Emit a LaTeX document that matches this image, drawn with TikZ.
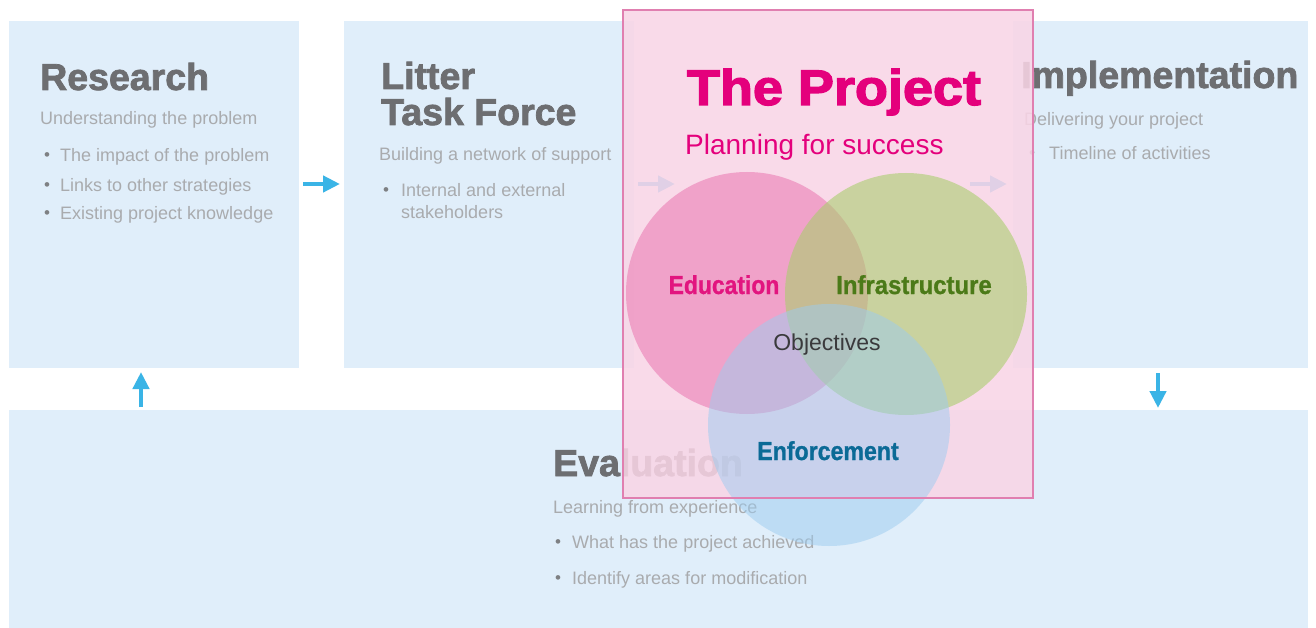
\documentclass[tikz,border=0pt]{standalone}
\usepackage{fontspec}
\setmainfont{Liberation Sans}
\newfontfamily\heavyfont[FakeBold=2]{Liberation Sans Bold}
\newfontfamily\blackfont[FakeBold=2.5]{Liberation Sans Bold}
\newfontfamily\labelfont[FakeBold=1]{Liberation Sans Bold}
\usetikzlibrary{arrows.meta}
\definecolor{boxblue}{HTML}{E0EEFA}
\definecolor{titlegray}{HTML}{6D6E71}
\definecolor{softgray}{HTML}{A9ABAE}
\definecolor{dotgray}{HTML}{7E8083}
\definecolor{arrowblue}{HTML}{3AB4E6}
\definecolor{panelpink}{HTML}{F9D5E6}
\definecolor{panelline}{HTML}{E07FB0}
\definecolor{projmagenta}{HTML}{E4007C}
\definecolor{edufill}{HTML}{EB7DB4}
\definecolor{infrafill}{HTML}{AACD6E}
\definecolor{enffill}{HTML}{9CCCF0}
\definecolor{edutext}{HTML}{E2157F}
\definecolor{infratext}{HTML}{4B7A18}
\definecolor{enftext}{HTML}{0B6A96}
\definecolor{objgray}{HTML}{3A3A3C}
\begin{document}
\begin{tikzpicture}[x=1pt,y=-1pt,
  bluebox/.style={fill=boxblue, draw=none, anchor=north west, inner sep=0pt, outer sep=0pt},
  ttl/.style={anchor=base west, inner sep=0pt, text=titlegray, font=\heavyfont\fontsize{37.5}{40}\selectfont},
  subtext/.style={anchor=base west, inner sep=0pt, text=softgray, font=\fontsize{18}{20}\selectfont},
  bulletmark/.style={anchor=base west, inner sep=0pt, text=dotgray, font=\fontsize{17}{19}\selectfont},
  flowarrow/.style={draw=arrowblue, line width=4.5pt, -{Triangle[length=17pt,width=16pt]}},
  venn/.style={circle, minimum size=242pt, inner sep=0pt, draw=none},
  vlabel/.style={anchor=base, inner sep=0pt, font=\labelfont\fontsize{26}{28}\selectfont}
]
\useasboundingbox (0,0) rectangle (1316,628);
\fill[white] (0,0) rectangle (1316,628);

% blue stage boxes
\node[bluebox, minimum width=290pt, minimum height=347pt] (research) at (9,21) {};
\node[bluebox, minimum width=290pt, minimum height=347pt] (litter) at (344,21) {};
\node[bluebox, minimum width=295pt, minimum height=347pt] (implement) at (1013,21) {};
\node[bluebox, minimum width=1299pt, minimum height=218pt] (evaluation) at (9,410) {};

% Research texts
\node[ttl] (rtitle) at (40,90) {Research};
\node[subtext] (rsub) at (40,125) {Understanding the problem};
\node[bulletmark] (rb1) at (44,161) {•};
\node[subtext] (rt1) at (60,162) {The impact of the problem};
\node[bulletmark] (rb2) at (44,191) {•};
\node[subtext] (rt2) at (60,192) {Links to other strategies};
\node[bulletmark] (rb3) at (44,219) {•};
\node[subtext] (rt3) at (60,220) {Existing project knowledge};

% Litter Task Force texts
\node[ttl] (ltitle1) at (381,89) {Litter};
\node[ttl] (ltitle2) at (381,125) {Task Force};
\node[subtext] (lsub) at (379,161) {Building a network of support};
\node[bulletmark] (lb1) at (383,196) {•};
\node[subtext] (lt1) at (401,197) {Internal and external};
\node[subtext] (lt2) at (401,219) {stakeholders};

% Implementation texts
\node[ttl] (ititle) at (1021,88) {Implementation};
\node[subtext] (isub) at (1024,126) {Delivering your project};
\node[bulletmark] (ib1) at (1029,159) {•};
\node[subtext] (it1) at (1049,160) {Timeline of activities};

% Evaluation texts
\node[ttl] (etitle) at (553,476) {Evaluation};
\node[subtext] (esub) at (553,513) {Learning from experience};
\node[bulletmark] (eb1) at (555,547) {•};
\node[subtext] (et1) at (572,548) {What has the project achieved};
\node[bulletmark] (eb2) at (555,583) {•};
\node[subtext] (et2) at (572,584) {Identify areas for modification};

% flow arrows
\coordinate (a1s) at (303,184); \coordinate (a1e) at (340,184);
\coordinate (a2s) at (638,184); \coordinate (a2e) at (675,184);
\coordinate (a3s) at (970,184); \coordinate (a3e) at (1007,184);
\coordinate (a4s) at (1158,373); \coordinate (a4e) at (1158,408);
\coordinate (a5s) at (141,407); \coordinate (a5e) at (141,372);
\draw[flowarrow] (a1s) -- (a1e);
\draw[flowarrow] (a2s) -- (a2e);
\draw[flowarrow] (a3s) -- (a3e);
\draw[flowarrow] (a4s) -- (a4e);
\draw[flowarrow] (a5s) -- (a5e);

% The Project panel
\node[anchor=north west, minimum width=410pt, minimum height=488pt, inner sep=0pt, outer sep=0pt,
      fill=panelpink, fill opacity=0.87, draw=none] (panel) at (623,10) {};

% Venn circles
\node[venn, fill=edufill, fill opacity=0.6] (edu) at (747,293) {};
\node[venn, fill=infrafill, fill opacity=0.6] (infra) at (906,294) {};
\node[venn, fill=enffill, fill opacity=0.5] (enf) at (829,425) {};

\draw[panelline, line width=1.2pt] (panel.north west) rectangle (panel.south east);

% Project texts
\node[anchor=base, inner sep=0pt, text=projmagenta, font=\blackfont\fontsize{50}{52}\selectfont] (ptitle) at (834,105) {\scalebox{1.08}[1]{The Project}};
\node[anchor=base west, inner sep=0pt, text=projmagenta, font=\fontsize{28}{30}\selectfont] (psub) at (685,155) {Planning for success};
\node[vlabel, text=edutext] (edulbl) at (724,294) {\scalebox{0.88}[1]{Education}};
\node[vlabel, text=infratext] (infralbl) at (914,294) {\scalebox{0.92}[1]{Infrastructure}};
\node[vlabel, text=enftext] (enflbl) at (828,460) {\scalebox{0.89}[1]{Enforcement}};
\node[anchor=base, inner sep=0pt, text=objgray, font=\fontsize{23}{25}\selectfont] (objlbl) at (827,350) {Objectives};
\end{tikzpicture}
\end{document}
